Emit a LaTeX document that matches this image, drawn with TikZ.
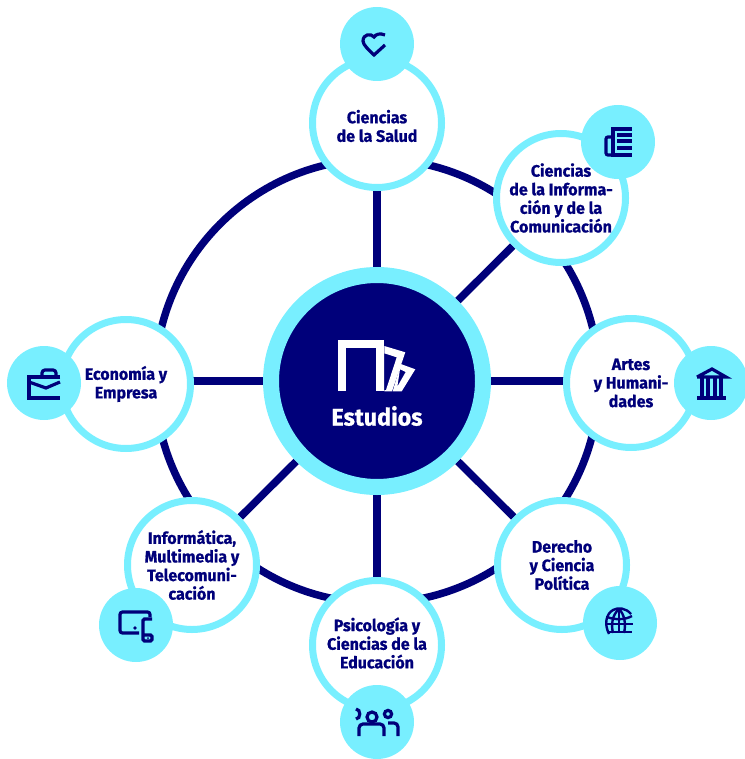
\documentclass[tikz,border=0pt]{standalone}
\usepackage{fontspec}
\setmainfont[FakeStretch=0.97, BoldFeatures={FakeBold=0.8}]{Fira Sans}
\usetikzlibrary{backgrounds}
\definecolor{navyblue}{HTML}{00007A}
\definecolor{skycyan}{HTML}{78EFFF}

\tikzset{
    hub/.style={circle, draw=skycyan, fill=navyblue, line width=16pt, minimum size=212pt, inner sep=0pt},
    field/.style={circle, draw=skycyan, fill=white, line width=7pt, minimum size=129pt, inner sep=0pt},
    fieldtext/.style={font=\fontsize{16.5}{18.6}\selectfont\bfseries, text=navyblue, align=center},
    ball/.style={circle, fill=skycyan, minimum size=74pt, inner sep=0pt},
    spoke/.style={draw=navyblue, line width=7.5pt},
    glyph/.style={draw=navyblue, line width=3.2pt},
    pics/heart/.style={code={
        \draw[glyph] (8,-9) .. controls (3,-11) and (-1,-10) .. (-3,-7)
            .. controls (-6,-11) and (-14,-10) .. (-14,-3)
            .. controls (-14,1) and (-8,6) .. (-3,11) -- (8,1);
    }},
    pics/paper/.style={code={
        \draw[glyph] (14,-13) -- (-5,-13) -- (-5,13) -- (14,13);
        \draw[glyph] (-1,-7) -- (14,-7) (-1,-1) -- (14,-1) (-1,6) -- (14,6);
        \draw[glyph, rounded corners=2pt] (-5,-5) -- (-12,-5) -- (-12,13) -- (-5,13);
    }},
    pics/bank/.style={code={
        \draw[glyph] (-14,-6) -- (1,-14) -- (15,-6) -- (-14,-6);
        \draw[glyph] (-9,-5) -- (-9,13) (-3,-5) -- (-3,13) (4,-5) -- (4,13) (10,-5) -- (10,13);
        \draw[glyph] (-14,15) -- (15,15);
    }},
    pics/globe/.style={code={
        \begin{scope}[line width=2.4pt]
        \draw[draw=navyblue] (11,-9) .. controls (6,-15) and (-2,-16) .. (-7,-13)
            .. controls (-14,-9) and (-16,1) .. (-11,11);
        \draw[draw=navyblue] (-1,-14) .. controls (-8,-8) and (-9,2) .. (-7,10);
        \draw[draw=navyblue] (-1,-14) .. controls (5,-8) and (6,2) .. (4,10);
        \draw[draw=navyblue] (-1,-14) -- (-1,10);
        \draw[draw=navyblue] (-13,-6) .. controls (-5,-3) and (5,-3) .. (12,-7);
        \draw[draw=navyblue] (-14,1) -- (13,1) (-12,9) -- (12,9);
        \end{scope}
    }},
    pics/people/.style={code={
        \draw[glyph] (-5,-5) circle (5);
        \draw[glyph] (11,-8) circle (3.6);
        \draw[glyph] (-21,-13) .. controls (-16,-13) and (-16,-3) .. (-21,-3);
        \draw[glyph, rounded corners=4pt] (-18,14) -- (-18,2) -- (7,2) -- (7,14);
        \draw[glyph, rounded corners=4pt] (11,1) -- (21,1) -- (21,14);
    }},
    pics/device/.style={code={
        \draw[glyph, rounded corners=2.5pt] (14,-8) -- (14,-13) -- (-16,-13) -- (-16,8) -- (3,8);
        \fill[navyblue] (-1,3) circle (1.8);
        \draw[glyph, rounded corners=1.5pt] (16,-6) -- (7,-6) -- (7,16) -- (16,16) -- (16,10) -- (7,10);
        \fill[navyblue] (12,13) circle (1);
    }},
    pics/case/.style={code={
        \draw[glyph] (16,-6) -- (-15,-6) -- (-15,15) -- (16,15);
        \draw[glyph] (-15,-1) -- (2,5) -- (16,-1);
        \draw[glyph, rounded corners=3pt] (-2,-6) -- (-2,-13) -- (12,-13) -- (12,-6);
    }}
}

\begin{document}
\begin{tikzpicture}[x=1pt, y=-1pt]
    \useasboundingbox (0,0) rectangle (744,759);

    % centro
    \node[hub] (centro) at (377,381) {};

    % estudios
    \node[field, label={[fieldtext, yshift=-3pt]center:Ciencias\\de la Salud}] (salud) at (377,123) {};
    \node[field, label={[fieldtext]center:Ciencias\\de la Informa-\\ción y de la\\Comunicación}] (comunicacion) at (561,198) {};
    \node[field, label={[fieldtext]center:Artes\\y Humani-\\dades}] (artes) at (631,383) {};
    \node[field, label={[fieldtext]center:Derecho\\y Ciencia\\Política}] (derecho) at (562,565) {};
    \node[field, label={[fieldtext, yshift=2pt]center:Psicología y\\Ciencias de la\\Educación}] (psicologia) at (377,645) {};
    \node[field, label={[fieldtext]center:Informática,\\Multimedia y\\Telecomuni-\\cación}] (informatica) at (192,565) {};
    \node[field, label={[fieldtext]center:Economía y\\Empresa}] (economia) at (126,384) {};

    % anillo y radios
    \begin{scope}[on background layer]
        \draw[spoke] (centro) circle (222);
        \foreach \campo in {salud, comunicacion, derecho, psicologia, informatica}
            \draw[spoke] (centro) -- (\campo);
        \draw[spoke] (centro) -- (centro -| artes);
        \draw[spoke] (centro) -- (centro -| economia);
    \end{scope}

    % iconos
    \node[ball] (bolasalud) at (377,44) {};
    \node[ball] (bolacomunicacion) at (618,142) {};
    \node[ball] (bolaartes) at (711,383) {};
    \node[ball] (boladerecho) at (620,623) {};
    \node[ball] (bolapsicologia) at (377,722) {};
    \node[ball] (bolainformatica) at (136,625) {};
    \node[ball] (bolaeconomia) at (44,383) {};

    \pic at (bolasalud) {heart};
    \pic at (bolacomunicacion) {paper};
    \pic at (bolaartes) {bank};
    \pic at (boladerecho) {globe};
    \pic at (bolapsicologia) {people};
    \pic at (bolainformatica) {device};
    \pic at (bolaeconomia) {case};

    % icono central
    \draw[white, line width=7.5pt] (342,391) -- (342,344) -- (380,344) -- (380,391);
    \fill[white, even odd rule] (384.3,346) -- (405.3,352.3) -- (392,391.3) -- (384.3,391.3) -- cycle
        (384.3,353.3) -- (396.7,357.3) -- (386,390) -- (384.3,390) -- cycle;
    \fill[white, even odd rule] (400.7,364) -- (415.3,369.3) -- (401.7,391.3) -- (392.7,391.3) -- cycle
        (400,369.3) -- (405.7,372) -- (397.3,386.7) -- cycle;
    \node[font=\fontsize{24}{28}\selectfont\bfseries, text=white] (estudios) at (377,416) {Estudios};
\end{tikzpicture}
\end{document}
